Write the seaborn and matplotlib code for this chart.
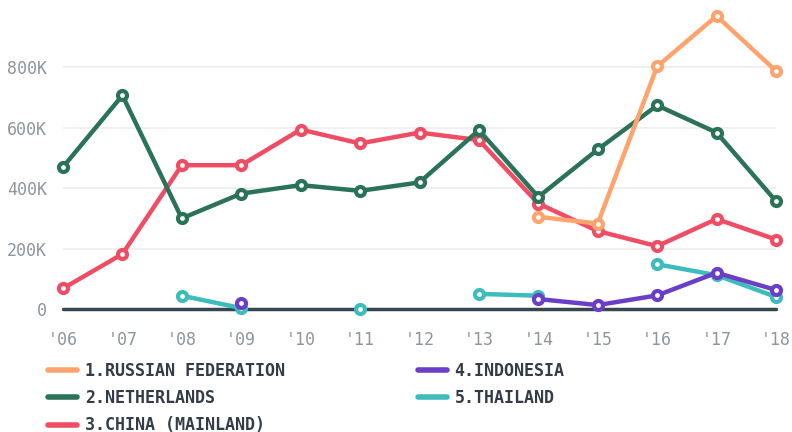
import numpy as np
import pandas as pd
import matplotlib
matplotlib.use("Agg")
import matplotlib.pyplot as plt
import matplotlib.colors as mcolors
from matplotlib.lines import Line2D
import seaborn as sns

years = list(range(2006, 2019))
tick_labels = ["'06", "'07", "'08", "'09", "'10", "'11", "'12", "'13", "'14", "'15", "'16", "'17", "'18"]
countries = ["1.RUSSIAN FEDERATION", "2.NETHERLANDS", "3.CHINA (MAINLAND)", "4.INDONESIA", "5.THAILAND"]
colors = ["#ffa36c", "#2a7258", "#ee4d64", "#6a3ec6", "#3dbcbd"]
nan = np.nan
russia      = [nan, nan, nan, nan, nan, nan, nan, nan, 305e3, 283e3, 803e3, 970e3, 788e3]
netherlands = [470e3, 707e3, 300e3, 382e3, 410e3, 391e3, 419e3, 592e3, 371e3, 528e3, 674e3, 584e3, 357e3]
china       = [68e3, 182e3, 476e3, 476e3, 594e3, 548e3, 584e3, 559e3, 349e3, 258e3, 208e3, 298e3, 230e3]
indonesia   = [nan, nan, nan, 20e3, nan, nan, nan, nan, 33e3, 13e3, 45e3, 120e3, 63e3]
thailand    = [nan, nan, 44e3, 3e3, nan, 1e3, nan, 50e3, 44e3, nan, 148e3, 112e3, 40e3]
series = [russia, netherlands, china, indonesia, thailand]

rows = []
for name, vals in zip(countries, series):
    seg = 0
    prev_nan = True
    for y, v in zip(years, vals):
        if np.isnan(v):
            prev_nan = True
            continue
        if prev_nan:
            seg += 1
            prev_nan = False
        rows.append({"year": y, "value": v, "country": name, "seg": f"{name}-{seg}"})
df = pd.DataFrame(rows)

sns.set_theme(style="white")
plt.rcParams["font.family"] = ["DejaVu Sans Mono", "DejaVu Sans"]

fig = plt.figure(figsize=(7.92, 4.32), dpi=100)
ax = fig.add_axes([63 / 792, 1 - 309 / 432, (776 - 63) / 792, (309 - 6) / 432])

pal = dict(zip(countries, colors))
sns.lineplot(data=df, x="year", y="value", hue="country", units="seg", estimator=None,
             palette=pal, hue_order=countries, marker="o", markersize=6.5, linewidth=3.2,
             legend=False, ax=ax, clip_on=False)

for line in ax.lines:
    c = mcolors.to_hex(line.get_color())
    line.set_markeredgecolor(c)
    line.set_markerfacecolor("white")
    line.set_markeredgewidth(3.0)
    line.set_clip_on(False)
    idx = min(range(len(colors)), key=lambda i: sum((a - b) ** 2 for a, b in zip(mcolors.to_rgb(colors[i]), mcolors.to_rgb(c))))
    line.set_zorder(10 - idx)

ax.set_xlim(2006, 2018)
ax.set_ylim(0, 1003e3)
ax.set_xticks(years)
ax.set_xticklabels(tick_labels)
yt = [0, 200e3, 400e3, 600e3, 800e3]
ax.set_yticks(yt)
ax.set_yticklabels(["0", "200K", "400K", "600K", "800K"])
for s in ax.spines.values():
    s.set_visible(False)
ax.grid(axis="y", color="#ececec", linewidth=1.2)
ax.grid(axis="x", visible=False)
ax.axhline(0, color="#37474f", linewidth=2.5, zorder=3, clip_on=False)
ax.tick_params(axis="both", length=0, labelsize=12, labelcolor="#8d969c")
ax.tick_params(axis="y", pad=11.5)
ax.tick_params(axis="x", pad=16)
ax.set_xlabel("")
ax.set_ylabel("")

handles = [Line2D([], [], color=c, linewidth=4) for c in colors]
leg_kw = dict(frameon=False, handlelength=1.75, handletextpad=0.45, labelspacing=0.55,
              prop={"family": "DejaVu Sans Mono", "weight": "bold", "size": 12},
              labelcolor="#333d47", loc="upper left", borderaxespad=0, borderpad=0)
leg1 = fig.legend(handles[:3], countries[:3], bbox_to_anchor=(48 / 792, 1 - 362 / 432), **leg_kw)
leg2 = fig.legend(handles[3:], countries[3:], bbox_to_anchor=(418 / 792, 1 - 362 / 432), **leg_kw)

fig.savefig("out.png", dpi=100)
